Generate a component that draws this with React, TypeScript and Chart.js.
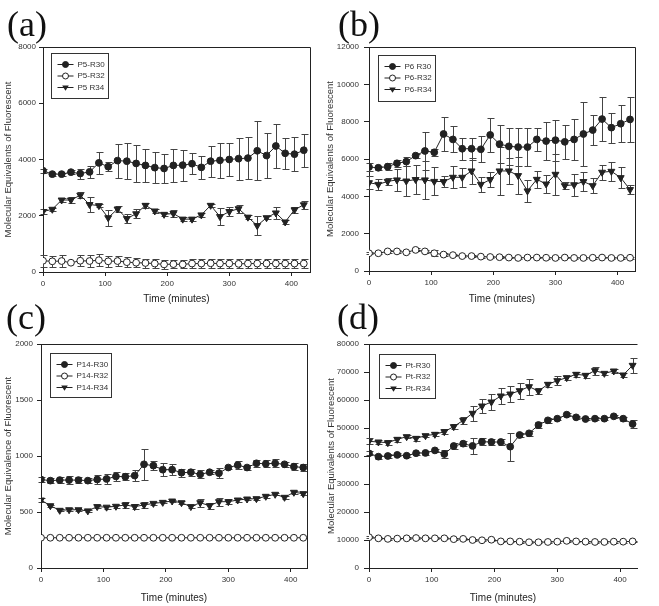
import React, { useEffect, useRef } from "react";
import { Chart, registerables } from "chart.js";
Chart.register(...registerables);

const TIMES = [0, 15, 30, 45, 60, 75, 90, 105, 120, 135, 150, 165, 180, 195, 210, 225, 240, 255, 270, 285, 300, 315, 330, 345, 360, 375, 390, 405, 420];

// Panel (a)
const A_LABELS = ["P5-R30", "P5-R32", "P5 R34"];
const A_R30 = [3600, 3480, 3480, 3550, 3500, 3560, 3880, 3745, 3960, 3940, 3860, 3790, 3710, 3680, 3790, 3800, 3850, 3720, 3940, 3970, 4000, 4030, 4050, 4310, 4140, 4480, 4220, 4190, 4330];
const A_R30_ERR = [80, 50, 50, 80, 180, 220, 400, 150, 600, 650, 650, 600, 550, 520, 600, 550, 380, 420, 550, 620, 600, 750, 750, 1050, 800, 780, 560, 600, 580];
const A_R32 = [400, 380, 390, 330, 400, 390, 420, 380, 390, 350, 330, 320, 300, 270, 280, 270, 300, 300, 310, 300, 300, 290, 300, 300, 300, 300, 300, 300, 300];
const A_R32_ERR = [220, 200, 200, 0, 200, 200, 220, 200, 180, 180, 160, 160, 150, 150, 140, 140, 170, 170, 170, 170, 170, 160, 170, 170, 170, 170, 170, 170, 170];
const A_R34 = [2150, 2230, 2560, 2560, 2730, 2400, 2360, 1930, 2240, 1900, 2070, 2370, 2170, 2050, 2080, 1880, 1880, 2030, 2370, 1970, 2150, 2250, 1950, 1650, 1930, 2100, 1780, 2210, 2390];
const A_R34_ERR = [100, 60, 60, 100, 100, 250, 60, 290, 100, 170, 160, 100, 60, 60, 120, 80, 80, 60, 60, 300, 150, 150, 60, 330, 60, 200, 60, 100, 150];
const A_YTICKS = [0, 2000, 4000, 6000, 8000];

// Panel (b)
const B_LABELS = ["P6 R30", "P6-R32", "P6-R34"];
const B_R30 = [5570, 5530, 5590, 5770, 5860, 6180, 6430, 6360, 7340, 7050, 6550, 6550, 6520, 7290, 6800, 6680, 6640, 6640, 7050, 6960, 7010, 6920, 7050, 7340, 7550, 8140, 7680, 7890, 8120];
const B_R30_ERR = [200, 100, 200, 200, 250, 100, 1000, 200, 900, 700, 600, 600, 700, 900, 1000, 1000, 1000, 1000, 600, 1000, 1100, 900, 1100, 1700, 800, 1200, 800, 1000, 1200];
const B_R32 = [950, 950, 1050, 1050, 1000, 1130, 1050, 950, 880, 850, 800, 800, 770, 750, 740, 720, 700, 720, 720, 710, 700, 720, 700, 700, 710, 720, 700, 700, 710];
const B_R32_ERR = [50, 50, 60, 60, 60, 80, 60, 150, 60, 60, 60, 60, 50, 50, 50, 50, 50, 50, 50, 50, 50, 50, 50, 50, 50, 50, 50, 50, 50];
const B_R34 = [4730, 4640, 4800, 4880, 4820, 4900, 4880, 4800, 4790, 5020, 5020, 5360, 4640, 4900, 5360, 5360, 5110, 4290, 4910, 4660, 5180, 4570, 4620, 4790, 4570, 5290, 5340, 5000, 4360];
const B_R34_ERR = [350, 300, 200, 600, 800, 800, 1000, 750, 300, 600, 500, 700, 400, 400, 1300, 700, 1000, 600, 450, 500, 1100, 200, 600, 500, 400, 400, 500, 550, 250];
const B_YTICKS = [0, 2000, 4000, 6000, 8000, 10000, 12000];

// Panel (c)
const C_LABELS = ["P14-R30", "P14-R32", "P14-R34"];
const C_R30 = [790, 780, 785, 785, 785, 780, 790, 795, 818, 815, 825, 926, 914, 878, 878, 851, 855, 836, 855, 847, 897, 918, 897, 935, 930, 935, 926, 905, 897];
const C_R30_ERR = [20, 20, 30, 35, 25, 25, 40, 45, 40, 30, 50, 140, 40, 60, 50, 35, 30, 35, 20, 45, 15, 35, 25, 30, 30, 35, 20, 30, 30];
const C_R32 = [270, 270, 270, 270, 270, 270, 270, 270, 270, 270, 270, 270, 270, 270, 270, 270, 270, 270, 270, 270, 270, 270, 270, 270, 270, 270, 270, 270, 270];
const C_R32_ERR = [0, 0, 0, 0, 0, 0, 0, 0, 0, 0, 0, 0, 0, 0, 0, 0, 0, 0, 0, 0, 0, 0, 0, 0, 0, 0, 0, 0, 0];
const C_R34 = [607, 556, 515, 520, 520, 510, 548, 543, 551, 563, 548, 563, 577, 586, 598, 583, 548, 583, 556, 592, 592, 607, 616, 619, 640, 658, 631, 676, 664];
const C_R34_ERR = [20, 10, 10, 15, 10, 10, 15, 15, 15, 25, 20, 25, 15, 10, 10, 15, 15, 35, 25, 35, 25, 15, 10, 10, 15, 10, 15, 15, 15];
const C_YTICKS = [0, 500, 1000, 1500, 2000];

// Panel (d)
const D_LABELS = ["Pt-R30", "Pt-R32", "Pt-R34"];
const D_R30 = [40950, 39760, 40000, 40400, 40100, 41000, 41100, 42000, 40700, 43570, 44400, 43600, 45100, 45000, 45000, 43330, 47500, 48100, 51070, 52740, 53330, 54760, 53800, 53210, 53330, 53330, 54170, 53330, 51430];
const D_R30_ERR = [700, 700, 600, 500, 600, 600, 600, 600, 1500, 1200, 800, 2800, 1200, 1000, 1000, 5000, 800, 800, 1000, 1000, 600, 500, 500, 500, 500, 500, 500, 700, 1500];
const D_R32 = [11000, 10600, 10400, 10500, 10600, 10700, 10600, 10600, 10600, 10300, 10400, 10000, 9900, 10100, 9500, 9500, 9400, 9200, 9200, 9300, 9400, 9700, 9500, 9400, 9300, 9300, 9400, 9400, 9500];
const D_R32_ERR = [300, 300, 300, 300, 300, 300, 300, 300, 300, 300, 300, 300, 300, 300, 300, 300, 300, 300, 300, 300, 300, 300, 300, 300, 300, 300, 300, 300, 300];
const D_R34 = [45240, 45000, 44760, 45950, 46900, 46300, 47250, 47740, 48690, 50480, 52740, 55240, 57860, 59290, 61430, 62140, 63330, 64760, 63210, 65600, 66900, 67980, 69170, 68810, 70480, 69520, 70360, 68930, 72380];
const D_R34_ERR = [1100, 700, 1000, 800, 600, 800, 600, 700, 800, 1000, 1200, 2700, 2500, 2800, 2700, 2700, 2800, 2800, 1000, 800, 1500, 700, 1000, 800, 1400, 600, 700, 600, 2600];
const D_YTICKS = [0, 10000, 20000, 30000, 40000, 50000, 60000, 70000, 80000];

const X_TICKS = [0, 100, 200, 300, 400];
const PANEL_TAGS = ["(a)", "(b)", "(c)", "(d)"];
const X_TITLE = "Time (minutes)";
const Y_TITLE_ABD = "Molecular Equivalents of Fluorescent";
const Y_TITLE_C = "Molecular Equivalence of Fluorescent";

const SANS = "'Liberation Sans', Arial, sans-serif";
const INK = "#222";

type Series = { values: number[]; errs: number[] };

type PanelCfg = {
  left: number; top: number; w: number; h: number;
  areaLeft: number; areaTop: number; areaRight: number; areaBottom: number;
  xMax: number; yTicks: number[];
  labels: string[]; series: Series[];
  yTitle: string; yTitlePad: number; titleBottomPad: number;
  yTickLen: number; yTickPad: number;
  legend: { dx: number; dy: number; w: number; h: number };
  fullFrame: boolean;
};

const STYLES = ["filled", "open", "tri"];

function drawMarker(ctx: CanvasRenderingContext2D, kind: string, x: number, y: number, r: number) {
  ctx.beginPath();
  if (kind === "tri") {
    ctx.moveTo(x - r * 1.1, y - r * 0.7);
    ctx.lineTo(x + r * 1.1, y - r * 0.7);
    ctx.lineTo(x, y + r * 1.1);
    ctx.closePath();
    ctx.fillStyle = INK;
    ctx.fill();
  } else {
    ctx.arc(x, y, r, 0, Math.PI * 2);
    ctx.fillStyle = kind === "open" ? "#fff" : INK;
    ctx.fill();
    ctx.strokeStyle = INK;
    ctx.lineWidth = 1;
    ctx.stroke();
  }
}

function Panel({ cfg }: { cfg: PanelCfg }) {
  const ref = useRef<HTMLCanvasElement | null>(null);
  useEffect(() => {
    if (!ref.current) return;
    const errorBars = {
      id: "errorBars",
      beforeDatasetsDraw(chart: any) {
        const ctx = chart.ctx as CanvasRenderingContext2D;
        const ys = chart.scales.y;
        ctx.save();
        ctx.strokeStyle = "#444";
        ctx.lineWidth = 1;
        cfg.series.forEach((s, i) => {
          const meta = chart.getDatasetMeta(i);
          meta.data.forEach((pt: any, j: number) => {
            const e = s.errs[j];
            if (!e) return;
            const v = s.values[j];
            const t = Math.round(ys.getPixelForValue(v + e)) + 0.5;
            const b = Math.round(ys.getPixelForValue(v - e)) + 0.5;
            const x = Math.round(pt.x) + 0.5;
            ctx.beginPath();
            ctx.moveTo(x, t); ctx.lineTo(x, b);
            ctx.moveTo(x - 3, t); ctx.lineTo(x + 4, t);
            ctx.moveTo(x - 3, b); ctx.lineTo(x + 4, b);
            ctx.stroke();
          });
        });
        ctx.restore();
      },
    };
    const frame = {
      id: "frame",
      afterDraw(chart: any) {
        const ctx = chart.ctx as CanvasRenderingContext2D;
        const a = chart.chartArea;
        ctx.save();
        ctx.strokeStyle = INK;
        ctx.lineWidth = 1;
        ctx.beginPath();
        const t = Math.round(a.top) + 0.5;
        const r = Math.round(a.right) + 0.5;
        ctx.moveTo(a.left, t);
        ctx.lineTo(r, t);
        if (cfg.fullFrame) ctx.lineTo(r, a.bottom);
        ctx.stroke();
        // legend box
        const L = cfg.legend;
        const lx = Math.round(a.left + L.dx) + 0.5;
        const ly = Math.round(a.top + L.dy) + 0.5;
        ctx.fillStyle = "#fff";
        ctx.fillRect(lx, ly, L.w, L.h);
        ctx.strokeStyle = "#333";
        ctx.strokeRect(lx, ly, L.w, L.h);
        ctx.font = `8px ${SANS}`;
        ctx.textBaseline = "middle";
        cfg.labels.forEach((lab, i) => {
          const yy = ly + 11 + i * 11.5;
          ctx.strokeStyle = INK;
          ctx.lineWidth = 1;
          ctx.beginPath();
          ctx.moveTo(lx + 6, yy);
          ctx.lineTo(lx + 22, yy);
          ctx.stroke();
          drawMarker(ctx, STYLES[i], lx + 14, yy, 3);
          ctx.fillStyle = "#333";
          ctx.fillText(lab, lx + 26, yy);
        });
        ctx.restore();
      },
    };
    const tickFont = { family: SANS, size: 8 };
    const chart = new Chart(ref.current, {
      type: "line",
      data: {
        datasets: cfg.series.map((s, i) => ({
          label: cfg.labels[i],
          data: s.values.map((v, j) => ({ x: TIMES[j], y: v })),
          borderColor: INK,
          borderWidth: 1,
          backgroundColor: STYLES[i] === "open" ? "#fff" : INK,
          pointBorderColor: INK,
          pointBorderWidth: 1,
          pointStyle: STYLES[i] === "tri" ? "triangle" : "circle",
          rotation: STYLES[i] === "tri" ? 180 : 0,
          pointRadius: STYLES[i] === "tri" ? 4 : 3.4,
          tension: 0,
        })),
      },
      options: {
        animation: false,
        responsive: false,
        devicePixelRatio: 1,
        layout: { padding: { left: 0, top: cfg.areaTop, right: cfg.w - cfg.areaRight, bottom: 0 } },
        plugins: { legend: { display: false }, tooltip: { enabled: false } },
        scales: {
          x: {
            type: "linear",
            min: 0,
            max: cfg.xMax,
            afterBuildTicks: (s: any) => { s.ticks = X_TICKS.map((v) => ({ value: v })); },
            afterFit: (s: any) => { s.height = cfg.h - cfg.areaBottom; },
            ticks: { font: tickFont, color: "#333", padding: 3, callback: (v: any) => String(v), maxRotation: 0 },
            grid: { drawOnChartArea: false, tickLength: 4, color: INK },
            border: { color: INK },
            title: { display: true, text: X_TITLE, font: { family: SANS, size: 10 }, color: "#222", padding: { top: 0, bottom: cfg.titleBottomPad } },
          },
          y: {
            type: "linear",
            min: cfg.yTicks[0],
            max: cfg.yTicks[cfg.yTicks.length - 1],
            afterBuildTicks: (s: any) => { s.ticks = cfg.yTicks.map((v) => ({ value: v })); },
            afterFit: (s: any) => { s.width = cfg.areaLeft; },
            ticks: { font: tickFont, color: "#333", padding: cfg.yTickPad, callback: (v: any) => String(v) },
            grid: { drawOnChartArea: false, tickLength: cfg.yTickLen, color: INK },
            border: { color: INK },
            title: { display: true, text: cfg.yTitle, font: { family: SANS, size: 9.5 }, color: "#333", padding: { top: cfg.yTitlePad, bottom: 0 } },
          },
        },
      },
      plugins: [errorBars, frame],
    } as any);
    return () => chart.destroy();
  }, [cfg]);
  return (
    <canvas
      ref={ref}
      width={cfg.w}
      height={cfg.h}
      style={{ position: "absolute", left: cfg.left, top: cfg.top, width: cfg.w, height: cfg.h }}
    />
  );
}

const PANELS: PanelCfg[] = [
  {
    left: 0, top: 0, w: 329, h: 306,
    areaLeft: 43, areaTop: 47, areaRight: 310, areaBottom: 272,
    xMax: 430, yTicks: A_YTICKS, labels: A_LABELS,
    series: [{ values: A_R30, errs: A_R30_ERR }, { values: A_R32, errs: A_R32_ERR }, { values: A_R34, errs: A_R34_ERR }],
    yTitle: Y_TITLE_ABD, yTitlePad: 3, titleBottomPad: 1, yTickLen: 4, yTickPad: 3,
    legend: { dx: 8, dy: 6, w: 57, h: 45 }, fullFrame: true,
  },
  {
    left: 325, top: 0, w: 334, h: 306,
    areaLeft: 44, areaTop: 47, areaRight: 310, areaBottom: 271,
    xMax: 428, yTicks: B_YTICKS, labels: B_LABELS,
    series: [{ values: B_R30, errs: B_R30_ERR }, { values: B_R32, errs: B_R32_ERR }, { values: B_R34, errs: B_R34_ERR }],
    yTitle: Y_TITLE_ABD, yTitlePad: 0, titleBottomPad: 1, yTickLen: 5, yTickPad: 5,
    legend: { dx: 9, dy: 8, w: 57, h: 46 }, fullFrame: true,
  },
  {
    left: 0, top: 303, w: 329, h: 303,
    areaLeft: 41, areaTop: 41, areaRight: 307, areaBottom: 265,
    xMax: 426, yTicks: C_YTICKS, labels: C_LABELS,
    series: [{ values: C_R30, errs: C_R30_ERR }, { values: C_R32, errs: C_R32_ERR }, { values: C_R34, errs: C_R34_ERR }],
    yTitle: Y_TITLE_C, yTitlePad: 3, titleBottomPad: 2, yTickLen: 4, yTickPad: 4,
    legend: { dx: 9, dy: 9, w: 61, h: 44 }, fullFrame: true,
  },
  {
    left: 325, top: 303, w: 334, h: 303,
    areaLeft: 44, areaTop: 41, areaRight: 312, areaBottom: 265,
    xMax: 427, yTicks: D_YTICKS, labels: D_LABELS,
    series: [{ values: D_R30, errs: D_R30_ERR }, { values: D_R32, errs: D_R32_ERR }, { values: D_R34, errs: D_R34_ERR }],
    yTitle: Y_TITLE_ABD, yTitlePad: 1, titleBottomPad: 2, yTickLen: 5, yTickPad: 5,
    legend: { dx: 10, dy: 10, w: 56, h: 44 }, fullFrame: false,
  },
];

const TAG_POS = [
  { left: 7, top: 4 },
  { left: 338, top: 4 },
  { left: 6, top: 297 },
  { left: 337, top: 297 },
];

export default function App() {
  return (
    <div style={{ position: "absolute", left: 0, top: 0, width: 659, height: 606, background: "#fff", overflow: "hidden" }}>
      {PANELS.map((p, i) => (
        <Panel key={i} cfg={p} />
      ))}
      {PANEL_TAGS.map((t, i) => (
        <div
          key={t}
          style={{
            position: "absolute",
            left: TAG_POS[i].left,
            top: TAG_POS[i].top,
            fontFamily: "'Liberation Serif', 'Times New Roman', serif",
            fontSize: 36,
            lineHeight: "40px",
            color: "#111",
          }}
        >
          {t}
        </div>
      ))}
    </div>
  );
}
